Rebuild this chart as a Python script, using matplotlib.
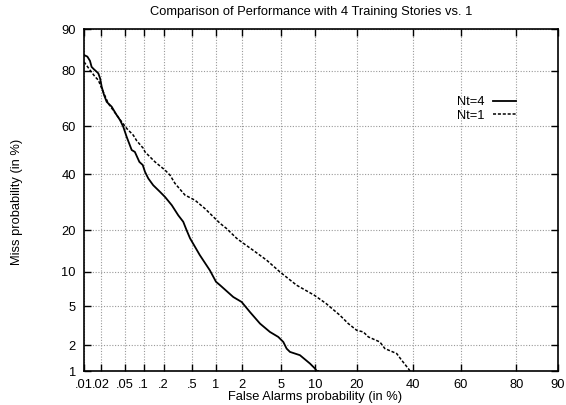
import matplotlib
matplotlib.use("Agg")
import matplotlib.pyplot as plt
import numpy as np
from statistics import NormalDist

# DET curves (false alarm %, miss %)
nt4_fa = [0.010, 0.0115, 0.0128, 0.0137, 0.0151, 0.0168, 0.018, 0.0193, 0.0206,
          0.0226, 0.0251, 0.0305, 0.036, 0.042, 0.0475, 0.054, 0.065, 0.073,
          0.086, 0.097, 0.105, 0.118, 0.140, 0.177, 0.209, 0.261, 0.322, 0.377,
          0.419, 0.466, 0.625, 0.84, 1.0, 1.12, 1.60, 1.99, 2.45, 3.13, 3.94,
          4.75, 5.30, 5.69, 6.10, 7.48, 9.09, 10.0, 10.3, 10.6]
nt4_miss = [84.3, 83.9, 82.8, 81.1, 80.4, 79.7, 79.2, 77.7, 74.9,
            72.1, 69.6, 67.8, 65.0, 62.6, 59.9, 55.7, 50.2, 49.4,
            45.2, 43.9, 41.1, 38.4, 35.7, 33.1, 31.2, 28.2, 24.7, 22.6,
            20.0, 17.7, 13.5, 10.3, 8.3, 7.76, 6.11, 5.50, 4.42, 3.39, 2.78,
            2.46, 2.17, 1.83, 1.68, 1.54, 1.23, 1.07, 1.0, 1.0]

nt1_fa = [0.010, 0.0128, 0.0157, 0.018, 0.0206, 0.0267, 0.037, 0.0447, 0.054,
          0.069, 0.078, 0.099, 0.105, 0.149, 0.209, 0.247, 0.290, 0.398, 0.541,
          0.728, 0.970, 1.12, 1.34, 1.47, 1.75, 1.99, 2.66, 3.66, 4.93, 7.0,
          9.88, 12.2, 15.4, 17.6, 20.0, 22.0, 23.6, 27.5, 29.3, 33.7, 35.7,
          38.3, 39.0]
nt1_miss = [82.5, 80.2, 78.2, 77.1, 74.4, 69.0, 64.6, 61.9, 59.2,
            56.4, 54.1, 50.9, 49.4, 45.2, 41.8, 39.7, 36.4, 31.9, 30.0,
            27.0, 23.7, 22.1, 20.5, 19.5, 17.7, 16.7, 14.6, 12.35, 10.0, 7.76,
            6.33, 5.32, 4.11, 3.39, 2.89, 2.78, 2.46, 2.17, 1.83, 1.61, 1.34,
            1.07, 1.0]

x_ticks = [0.01, 0.02, 0.05, 0.1, 0.2, 0.5, 1, 2, 5, 10, 20, 40, 60, 80, 90]
x_labels = [".01", ".02", ".05", ".1", ".2", ".5", "1", "2", "5", "10",
            "20", "40", "60", "80", "90"]
y_ticks = [1, 2, 5, 10, 20, 40, 60, 80, 90]
y_labels = ["1", "2", "5", "10", "20", "40", "60", "80", "90"]

_nd = NormalDist()
_ppf = np.vectorize(lambda p: _nd.inv_cdf(p), otypes=[float])
_cdf = np.vectorize(lambda z: _nd.cdf(z), otypes=[float])


def probit(p):
    p = np.clip(np.asarray(p, dtype=float) / 100.0, 1e-9, 1 - 1e-9)
    return _ppf(p)


def inv_probit(z):
    return _cdf(np.asarray(z, dtype=float)) * 100.0


FS = 9.3
plt.rcParams["font.family"] = ["Liberation Sans", "DejaVu Sans"]
plt.rcParams["font.size"] = FS

W, H = 566, 405
fig = plt.figure(figsize=(W / 100, H / 100), dpi=100)
ax = fig.add_axes([84 / W, 1 - 371 / H, (558 - 84) / W, (371 - 29) / H])

ax.set_xscale("function", functions=(probit, inv_probit))
ax.set_yscale("function", functions=(probit, inv_probit))

ax.plot(nt4_fa, nt4_miss, color="black", lw=1.3, label="Nt=4")
ax.plot(nt1_fa, nt1_miss, color="black", lw=1.1, linestyle=(0, (2, 1.2)),
        label="Nt=1")

ax.set_xlim(0.01, 90)
ax.set_ylim(1, 90)
ax.set_xticks(x_ticks)
ax.set_xticklabels(x_labels)
ax.set_yticks(y_ticks)
ax.set_yticklabels(y_labels)
ax.minorticks_off()
ax.tick_params(direction="in", top=True, right=True, length=5, width=1,
               labelsize=FS)
ax.tick_params(axis="x", pad=5.5)
ax.tick_params(axis="y", pad=5.8)
ax.grid(True, linestyle=(0, (1, 1.5)), color="#999999", lw=0.8)
for s in ax.spines.values():
    s.set_linewidth(1.2)

ax.legend(loc="upper right", bbox_to_anchor=(516 / W, 1 - 96 / H),
          bbox_transform=fig.transFigure, frameon=False, markerfirst=False,
          handlelength=1.8, handletextpad=0.6, labelspacing=0.12,
          borderpad=0, borderaxespad=0, fontsize=FS)

fig.text(150 / W, 1 - 12 / H, "Comparison of Performance with 4 Training Stories vs. 1",
         ha="left", va="center", fontsize=FS)
fig.text(228 / W, 1 - 397 / H, "False Alarms probability (in %)",
         ha="left", va="center", fontsize=FS)
fig.text(17 / W, 1 - 202 / H, "Miss probability (in %)", rotation=90,
         ha="center", va="center", fontsize=FS)

fig.savefig("out.png", dpi=100)
